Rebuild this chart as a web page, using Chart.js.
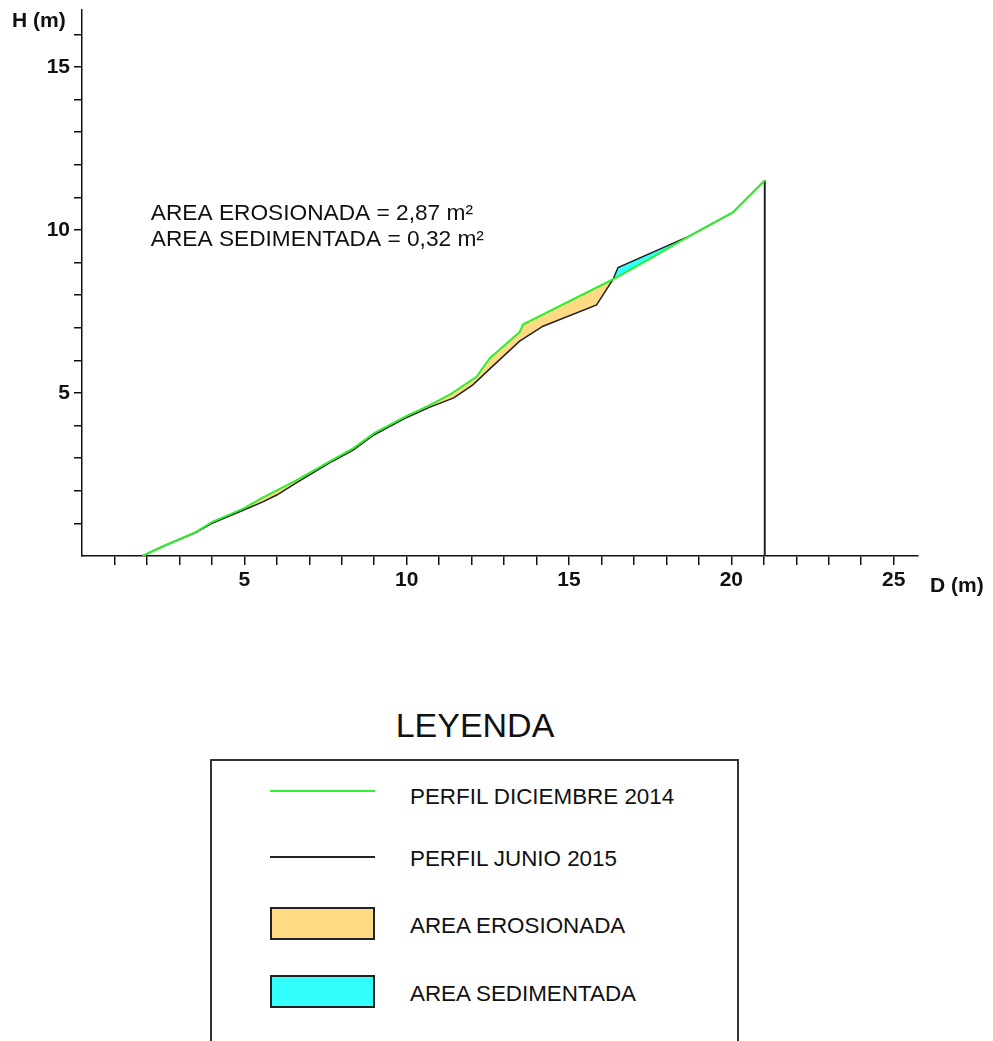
<!DOCTYPE html>
<html lang="es">
<head>
<meta charset="utf-8">
<title>Perfil de playa</title>
<script src="https://cdn.jsdelivr.net/npm/chart.js@4.4.1/dist/chart.umd.min.js"></script>
<style>
  html, body { margin: 0; padding: 0; background: #ffffff; }
  body { width: 993px; height: 1041px; position: relative; overflow: hidden;
         font-family: "Liberation Sans", Arial, sans-serif; color: #111; }
  #wrap { position: absolute; left: 0; top: 0; width: 993px; height: 620px; }
  .t { position: absolute; white-space: nowrap; line-height: 1; }
  #leyenda-titulo { font-size: 34px; left: 0; width: 950px; text-align: center; top: 708px; }
  #leyenda { position: absolute; left: 210px; top: 759px; width: 529px; height: 320px;
             border: 2px solid #333; box-sizing: border-box; }
  .linea { position: absolute; left: 270px; width: 105px; height: 2px; }
  .caja { position: absolute; left: 270px; width: 105px; height: 33px;
          border: 2px solid #222; box-sizing: border-box; }
  .item { font-size: 22.4px; left: 410px; }
</style>
</head>
<body>
<div id="wrap"><canvas id="perfil" width="993" height="620"></canvas></div>

<div id="leyenda-titulo" class="t">LEYENDA</div>
<div id="leyenda"></div>
<div class="linea" style="top:790px; background:#2ef02e;"></div>
<div class="t item" style="top:786px;">PERFIL DICIEMBRE 2014</div>
<div class="linea" style="top:856px; background:#222;"></div>
<div class="t item" style="top:848px;">PERFIL JUNIO 2015</div>
<div class="caja" style="top:907px; background:#ffda85;"></div>
<div class="t item" style="top:915px;">AREA EROSIONADA</div>
<div class="caja" style="top:975px; background:#33ffff;"></div>
<div class="t item" style="top:983px;">AREA SEDIMENTADA</div>

<script>
// Perfil de diciembre 2014 (D, H en metros)
const dic2014X = [1.86, 2.5, 3.5, 4.0, 5.0, 5.52, 6.6, 7.7, 8.35, 9.0, 10.0, 10.7, 11.38, 12.15, 12.56, 13.48, 13.58, 16.36, 17.5, 18.72, 20.06, 21.03];
const dic2014Y = [0.0, 0.3, 0.73, 1.04, 1.47, 1.77, 2.32, 2.94, 3.3, 3.77, 4.3, 4.62, 4.98, 5.5, 6.07, 6.87, 7.1, 8.49, 9.12, 9.82, 10.55, 11.52];

// Perfil de junio 2015
const jun2015X = [1.86, 2.5, 3.5, 4.0, 5.0, 5.57, 6.0, 6.6, 7.7, 8.35, 9.0, 10.0, 10.7, 11.45, 12.04, 12.56, 13.48, 14.2, 15.85, 16.36, 16.51, 18.72, 20.06, 21.03];
const jun2015Y = [0.0, 0.3, 0.72, 1.0, 1.42, 1.66, 1.87, 2.24, 2.9, 3.25, 3.72, 4.25, 4.56, 4.85, 5.25, 5.74, 6.59, 7.05, 7.7, 8.49, 8.85, 9.82, 10.55, 11.52];

// Cierre vertical del perfil al final del levantamiento
const cierreX = [21.03, 21.03];
const cierreY = [11.52, 0.0];

// Ejes
const ejeXMax = 25.75;
const ejeYMax = 16.75;
const etiquetaCada = 5;

// Resultados de areas
const textoAreas = ['AREA EROSIONADA = 2,87 m\u00b2', 'AREA SEDIMENTADA = 0,32 m\u00b2'];

const pares = (xs, ys) => xs.map((x, i) => ({ x: x, y: ys[i] }));

const EROSION = '#ffda85';
const SEDIMENTO = '#33ffff';
const VERDE = '#2ef02e';
const NEGRO = '#222222';

const textosPlugin = {
  id: 'textos',
  afterDraw(chart) {
    const ctx = chart.ctx;
    const sx = chart.scales.x;
    ctx.save();
    ctx.fillStyle = '#111';
    ctx.textBaseline = 'alphabetic';
    ctx.textAlign = 'left';
    ctx.font = '22.7px "Liberation Sans", Arial, sans-serif';
    const x0 = sx.getPixelForValue(2.12);
    ctx.fillText(textoAreas[0], x0, 220);
    ctx.fillText(textoAreas[1], x0, 246);
    ctx.font = 'bold 21px "Liberation Sans", Arial, sans-serif';
    ctx.fillText('H (m)', 12, 27);
    ctx.font = 'bold 21px "Liberation Sans", Arial, sans-serif';
    ctx.fillText('D (m)', 930, 592);
    ctx.restore();
  }
};

const soloEnteros = (scale) => {
  scale.ticks = scale.ticks.filter(t => t.value > 0 && Math.abs(t.value - Math.round(t.value)) < 1e-9);
};

new Chart(document.getElementById('perfil'), {
  type: 'line',
  data: {
    datasets: [
      {
        label: 'PERFIL DICIEMBRE 2014',
        data: pares(dic2014X, dic2014Y),
        borderColor: VERDE,
        borderWidth: 2,
        pointRadius: 0,
        tension: 0,
        order: 0,
        fill: { target: 1, above: EROSION, below: SEDIMENTO }
      },
      {
        label: 'PERFIL JUNIO 2015',
        data: pares(jun2015X, jun2015Y),
        borderColor: NEGRO,
        borderWidth: 1.5,
        pointRadius: 0,
        tension: 0,
        order: 1,
        fill: false
      },
      {
        label: 'cierre',
        data: pares(cierreX, cierreY),
        borderColor: NEGRO,
        borderWidth: 2,
        pointRadius: 0,
        tension: 0,
        order: 2,
        fill: false
      }
    ]
  },
  options: {
    responsive: false,
    animation: false,
    devicePixelRatio: 1,
    layout: { padding: { top: 10, right: 75, left: 0, bottom: 0 } },
    plugins: {
      legend: { display: false },
      tooltip: { enabled: false },
      filler: { drawTime: 'beforeDatasetsDraw', propagate: false }
    },
    scales: {
      x: {
        type: 'linear',
        min: 0,
        max: ejeXMax,
        afterFit(scale) { scale.height = 64; scale.paddingLeft = 0; scale.paddingRight = 0; },
        afterBuildTicks: soloEnteros,
        border: { display: true, color: '#111', width: 1.5 },
        grid: { display: true, drawOnChartArea: false, drawTicks: true, tickLength: 9, color: '#111', lineWidth: 1.5 },
        ticks: {
          stepSize: 1,
          includeBounds: false,
          autoSkip: false,
          maxRotation: 0,
          padding: 3,
          color: '#111',
          font: { family: '"Liberation Sans", Arial, sans-serif', weight: 'bold', size: 21 },
          callback: v => (v % etiquetaCada === 0 ? String(v) : '')
        }
      },
      y: {
        type: 'linear',
        min: 0,
        max: ejeYMax,
        afterFit(scale) { scale.width = 82; scale.paddingTop = 0; scale.paddingBottom = 0; },
        afterBuildTicks: soloEnteros,
        border: { display: true, color: '#111', width: 1.5 },
        grid: { display: true, drawOnChartArea: false, drawTicks: true, tickLength: 8, color: '#111', lineWidth: 1.5 },
        ticks: {
          stepSize: 1,
          includeBounds: false,
          autoSkip: false,
          padding: 4,
          color: '#111',
          font: { family: '"Liberation Sans", Arial, sans-serif', weight: 'bold', size: 21 },
          callback: v => (v % etiquetaCada === 0 ? String(v) : '')
        }
      }
    }
  },
  plugins: [textosPlugin]
});
</script>
</body>
</html>
